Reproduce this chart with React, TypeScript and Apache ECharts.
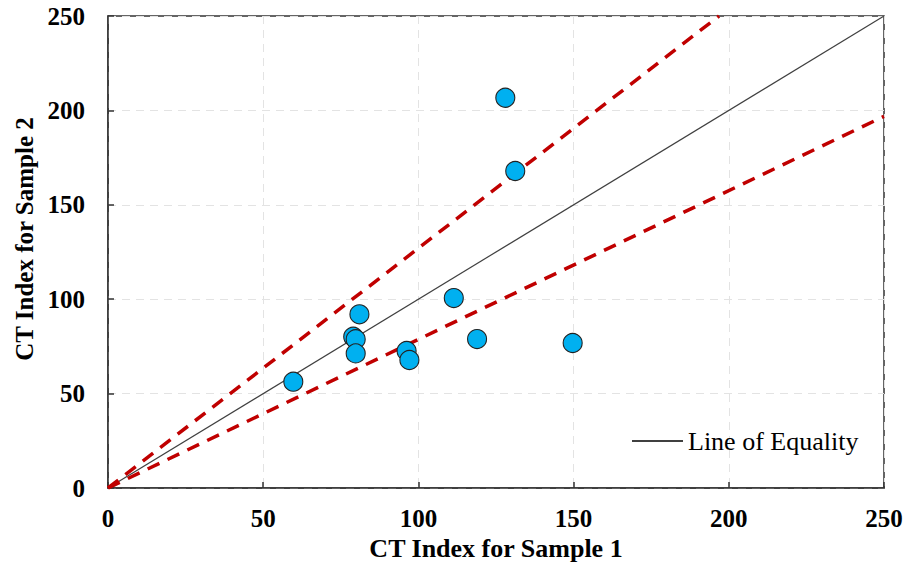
import React, { useEffect, useRef } from "react";
import * as echarts from "echarts";

const sample1 = [59.7, 79.0, 79.8, 79.8, 81.0, 96.2, 97.1, 111.4, 118.9, 128.0, 131.2, 149.7];
const sample2 = [56.3, 80.1, 78.8, 71.3, 92.0, 72.6, 67.8, 100.6, 78.9, 206.7, 167.9, 76.8];
const equalityLine = [[0, 0], [250, 250]];
const upperBound = [[0, 0], [196.85, 250]];
const lowerBound = [[0, 0], [250, 196.85]];
const ticks = [0, 50, 100, 150, 200, 250];

export default function App() {
  const ref = useRef<HTMLDivElement>(null);
  useEffect(() => {
    if (!ref.current) return;
    const chart = echarts.init(ref.current, null, { renderer: "svg" });
    const font = "'Liberation Serif', 'Times New Roman', serif";
    const axisCommon = {
      min: ticks[0],
      max: ticks[ticks.length - 1],
      interval: 50,
      axisLine: { show: true, lineStyle: { color: "#333", width: 1.5 } },
      axisTick: { show: true, inside: true, length: 6, lineStyle: { color: "#333", width: 1.5 } },
      splitLine: { show: true, lineStyle: { color: "#e3e3e3", type: [8, 6], width: 1 } },
      axisLabel: { color: "#000", fontFamily: font, fontWeight: "bold", fontSize: 25 },
      nameLocation: "middle" as const,
    };
    chart.setOption({
      animation: false,
      backgroundColor: "#fff",
      grid: {
        left: 108,
        top: 16,
        right: 25,
        bottom: 85,
        show: true,
        borderColor: "#333",
        borderWidth: 1.5,
        backgroundColor: "transparent",
      },
      legend: {
        data: ["Line of Equality"],
        left: 626,
        top: 423,
        itemWidth: 51,
        itemHeight: 2,
        itemGap: 4,
        textStyle: { color: "#000", fontFamily: font, fontSize: 26 },
      },
      xAxis: {
        type: "value",
        ...axisCommon,
        name: "CT Index for Sample 1",
        nameGap: 47,
        nameTextStyle: { color: "#000", fontFamily: font, fontWeight: "bold", fontSize: 26 },
        axisLabel: { ...axisCommon.axisLabel, margin: 18 },
      },
      yAxis: {
        type: "value",
        ...axisCommon,
        name: "CT Index for Sample 2",
        nameGap: 70,
        nameTextStyle: {
          color: "#000",
          fontFamily: font,
          fontWeight: "bold",
          fontSize: 25,
          padding: [0, 0, 0, 26],
        },
        axisLabel: { ...axisCommon.axisLabel, margin: 23 },
      },
      series: [
        {
          name: "Line of Equality",
          type: "line",
          data: equalityLine,
          symbol: "none",
          lineStyle: { color: "#404040", width: 1.2 },
          itemStyle: { color: "#404040" },
          z: 2,
        },
        {
          name: "Upper",
          type: "line",
          data: upperBound,
          symbol: "none",
          lineStyle: { color: "#c00000", width: 3.5, type: [13, 9] },
          z: 3,
        },
        {
          name: "Lower",
          type: "line",
          data: lowerBound,
          symbol: "none",
          lineStyle: { color: "#c00000", width: 3.5, type: [13, 9] },
          z: 3,
        },
        {
          name: "Samples",
          type: "scatter",
          data: sample1.map((x, i) => [x, sample2[i]]),
          symbol: "circle",
          symbolSize: 19,
          itemStyle: { color: "#00b0f0", borderColor: "#222", borderWidth: 1.1, opacity: 1 },
          z: 4,
        },
      ],
    });
    return () => chart.dispose();
  }, []);
  return <div ref={ref} style={{ width: 909, height: 573, position: "absolute", left: 0, top: 0 }} />;
}
